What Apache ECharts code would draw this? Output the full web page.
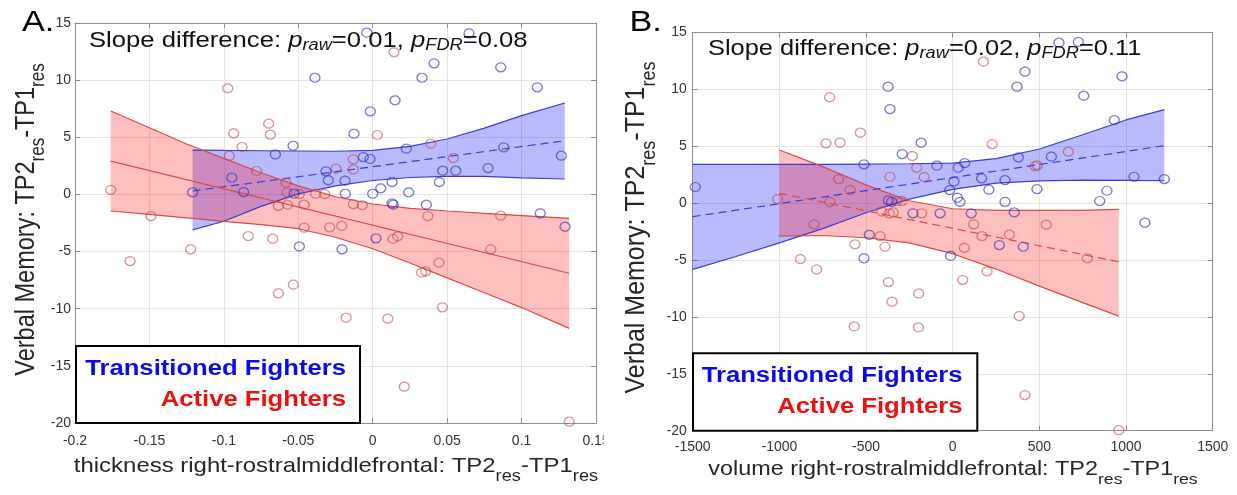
<!DOCTYPE html>
<html><head><meta charset="utf-8">
<script src="https://cdn.jsdelivr.net/npm/echarts@6/dist/echarts.min.js"></script>
<style>html,body{margin:0;padding:0;background:#fff}#c{width:1237px;height:495px}</style>
</head><body><div id="c"></div>
<script>
const FONT = "'Liberation Sans', Arial, Helvetica, sans-serif";

// ---------- Panel A (thickness) ----------
const aXTicks = [-0.2, 0.15, 0.05];
const yTicks = [-20, 15, 5];
const aBlueX = [-0.121,-0.0947,-0.0867,-0.0654,-0.0535,-0.0529,-0.0493,-0.0388,-0.0314,-0.0298,-0.0186,-0.0184,-0.0206,-0.0126,-0.0063,-0.0018,-0.0016,-0.004,0,0.0054,0.013,0.013,0.0138,0.0022,0.015,0.0226,0.0242,0.0331,0.0412,0.036,0.0448,0.047,0.0558,0.0647,0.0775,0.086,0.088,0.1106,0.1126,0.1267,0.1292];
const aBlueY = [0.18,1.46,0.21,3.5,4.26,0.06,-4.55,10.21,2.02,1.23,1.2,0.06,-4.8,5.31,3.27,3.1,7.27,14.15,0.06,0.53,1.08,-0.78,-0.9,-3.84,8.23,4.0,0.18,10.21,11.47,-0.9,1.08,2.08,2.08,14.1,2.31,11.12,4.12,9.37,-1.65,3.39,-2.82];
const aRedX = [-0.176,-0.163,-0.149,-0.1223,-0.0974,-0.0963,-0.0934,-0.0878,-0.0836,-0.078,-0.0699,-0.0688,-0.0672,-0.0634,-0.0634,-0.0583,-0.0576,-0.0572,-0.0533,-0.0493,-0.0461,-0.0461,-0.0383,-0.0323,-0.0289,-0.0247,-0.0208,-0.0179,-0.013,-0.013,-0.013,-0.007,0.0031,0.0101,0.0136,0.0168,0.0143,0.0212,0.0329,0.0356,0.037,0.039,0.0445,0.0468,0.0542,0.0793,0.086,0.132];
const aRedY = [0.4,-5.83,-1.89,-4.8,9.28,3.39,5.35,4.15,-3.64,2.05,6.19,5.23,-3.87,-8.65,-1.0,1.03,0.17,-0.9,-7.9,0.03,-0.9,-2.9,0.06,0.03,-2.88,2.25,-2.76,-10.79,3.07,2.19,-0.84,-0.93,5.2,-10.87,-3.9,-3.67,12.43,-16.82,-6.85,-6.73,-1.89,4.44,-5.97,-9.88,3.18,-4.8,-1.86,-19.88];
const aBlueFitX = [-0.121, 0.1292];
const aBlueFitY = [0.3, 4.7];
const aBlueBandX = [-0.121,-0.1,-0.075,-0.05,-0.025,0,0.025,0.05,0.075,0.1,0.129];
const aBlueBandUp = [3.88,3.85,3.82,3.8,3.78,3.85,4.2,4.85,5.8,6.9,8.0];
const aBlueBandLo = [-3.1,-2.35,-1.05,0.05,0.75,1.22,1.48,1.58,1.58,1.45,1.35];
const aRedFitX = [-0.176, 0.132];
const aRedFitY = [2.92, -6.9];
const aRedBandX = [-0.176,-0.15,-0.125,-0.1,-0.075,-0.05,-0.025,0,0.025,0.05,0.075,0.1,0.132];
const aRedBandUp = [7.3,5.84,4.41,3.15,1.9,0.75,-0.2,-0.84,-1.22,-1.45,-1.66,-1.85,-2.09];
const aRedBandLo = [-1.45,-1.75,-2.05,-2.35,-2.65,-3.0,-3.75,-4.75,-6.0,-7.3,-8.6,-9.9,-11.72];

// ---------- Panel B (volume) ----------
const bXTicks = [-1500, 1500, 500];
const bBlueX = [-1485,-512,-512,-481,-373,-362,-371,-352,-291,-229,-182,-91,-73,-17,-12,7,27,42,32,69,107,167,209,269,302,302,355,371,379,407,417,486,569,613,725,756,848,890,932,977,1046,1109,1221];
const bBlueY = [1.41,3.4,-4.86,-2.79,10.22,8.26,0.24,0.11,4.3,-0.9,5.3,3.28,-0.9,1.14,-4.65,1.9,0.47,0.11,3.1,3.51,-0.9,2.17,1.17,-3.69,2.02,0.11,-0.82,10.22,4.02,-3.84,11.54,1.23,4.07,14.09,14.15,9.43,0.18,1.08,7.29,11.13,2.31,-1.73,2.11];
const bRedX = [-1010,-879,-800,-785,-731,-710,-708,-658,-650,-592,-568,-564,-533,-419,-410,-391,-371,-366,-362,-350,-343,-323,-293,-233,-208,-198,-196,-179,-165,58,67,121,169,177,198,228,327,384,417,475,488,540,667,777,958];
const bRedY = [0.35,-4.92,-1.87,-5.83,5.25,9.29,0.09,2.11,5.3,1.14,-10.84,-3.63,6.18,-2.9,-0.73,-3.84,-6.94,-0.9,2.31,-8.67,-0.82,0.18,0.2,4.13,3.1,-10.93,-7.94,-0.9,2.28,-6.74,-3.93,-1.87,-2.9,12.42,-6.0,5.18,-2.78,-9.93,-16.87,3.25,3.31,-1.9,4.51,-4.86,-19.95];
const bBlueFitX = [-1500, 1221];
const bBlueFitY = [-1.2, 5.04];
const bBlueBandX = [-1500,-1250,-1000,-750,-500,-250,0,250,500,750,1000,1221];
const bBlueBandUp = [3.4,3.4,3.4,3.4,3.42,3.45,3.5,3.9,4.75,6.0,7.3,8.2];
const bBlueBandLo = [-5.83,-4.7,-3.5,-2.25,-0.85,0.35,1.2,1.75,1.95,2.02,2.0,1.96];
const bRedFitX = [-1000, 958];
const bRedFitY = [0.85, -5.16];
const bRedBandX = [-1000,-750,-500,-250,0,250,500,750,958];
const bRedBandUp = [4.66,3.2,1.6,0.2,-0.5,-0.65,-0.65,-0.65,-0.56];
const bRedBandLo = [-2.9,-2.85,-3.05,-3.5,-4.45,-5.8,-7.3,-8.75,-9.93];

// ---------- texts ----------
const titleA = 'Slope difference: {i|p}{s|raw}=0.01, {i|p}{s|FDR}=0.08';
const titleB = 'Slope difference: {i|p}{s|raw}=0.02, {i|p}{s|FDR}=0.11';
const xNameA = 'thickness right-rostralmiddlefrontal: TP2{s|res}-TP1{s|res}';
const xNameB = 'volume right-rostralmiddlefrontal: TP2{s|res}-TP1{s|res}';
const yName = 'Verbal Memory: TP2{s|res}-TP1{s|res}';
const legendNames = ['Transitioned Fighters', 'Active Fighters'];

const BLUE_PT = 'rgba(45,45,190,0.8)';
const RED_PT = 'rgba(195,60,60,0.7)';
const BLUE_LN = '#3b3bd6';
const RED_LN = '#d84a4a';
const BLUE_FILL = 'rgba(0,0,255,0.27)';
const RED_FILL = 'rgba(255,0,0,0.25)';
const AXIS_C = '#8c8c8c';

const chart = echarts.init(document.getElementById('c'), null, {renderer: 'canvas'});

function plainNum(v) { return String(Math.round(v * 10000) / 10000); }

function xAx(grid, t, pos, margin) {
  const main = pos === 'bottom';
  return {
    gridIndex: grid, type: 'value', position: pos, min: t[0], max: t[1], interval: t[2],
    axisLine: {show: true, onZero: false, lineStyle: {color: AXIS_C, width: 1}},
    axisTick: {show: true, inside: true, length: 5, lineStyle: {color: AXIS_C}},
    axisLabel: {show: main, fontSize: 14, fontFamily: FONT, color: '#333', margin: margin, showMinLabel: true, showMaxLabel: true, formatter: plainNum},
    splitLine: {show: main, lineStyle: {color: '#e4e4e4', width: 1}}
  };
}
function yAx(grid, t, pos, margin) {
  const main = pos === 'left';
  return {
    gridIndex: grid, type: 'value', position: pos, min: t[0], max: t[1], interval: t[2],
    axisLine: {show: true, onZero: false, lineStyle: {color: AXIS_C, width: 1}},
    axisTick: {show: true, inside: true, length: 5, lineStyle: {color: AXIS_C}},
    axisLabel: {show: main, fontSize: 14, fontFamily: FONT, color: '#333', margin: margin, showMinLabel: true, showMaxLabel: true, formatter: plainNum},
    splitLine: {show: main, lineStyle: {color: '#e4e4e4', width: 1}}
  };
}
function band(xi, yi, xs, lo, up, fill) {
  return {
    type: 'custom', xAxisIndex: xi, yAxisIndex: yi, z: 1, silent: true, clip: true,
    data: xs.map((x, i) => [x, lo[i], up[i]]),
    encode: {x: 0, y: [1, 2]},
    renderItem: function (params, api) {
      if (params.dataIndex !== 0) return null;
      const pts = [];
      for (let i = 0; i < xs.length; i++) pts.push(api.coord([xs[i], up[i]]));
      for (let i = xs.length - 1; i >= 0; i--) pts.push(api.coord([xs[i], lo[i]]));
      return {type: 'polygon', shape: {points: pts}, style: {fill: fill}};
    }
  };
}
function line(xi, yi, xs, ys, color, dashed) {
  return {
    type: 'line', xAxisIndex: xi, yAxisIndex: yi, z: 2, silent: true, symbol: 'none',
    data: xs.map((x, i) => [x, ys[i]]),
    lineStyle: {color: color, width: 1.2, type: dashed ? [8, 5] : 'solid'}
  };
}
function pts(xi, yi, xs, ys, color) {
  return {
    type: 'scatter', xAxisIndex: xi, yAxisIndex: yi, z: 3, silent: true,
    symbol: 'circle', symbolSize: [10, 9],
    data: xs.map((x, i) => [x, ys[i]]),
    itemStyle: {color: 'rgba(0,0,0,0)', borderColor: color, borderWidth: 1.3}
  };
}
function txt(x, y, text, size, opts) {
  opts = opts || {};
  const sub = opts.sub || 16, pad = opts.pad || 10;
  const st = {
    text: text, fontSize: size, fontFamily: FONT, fontWeight: opts.weight || 'normal',
    fill: opts.fill || '#111', align: opts.align || 'left', verticalAlign: 'middle',
    rich: {
      i: {fontSize: size, fontStyle: 'italic', fontFamily: FONT, fill: opts.fill || '#111'},
      s: {fontSize: sub, fontStyle: opts.subItalic ? 'italic' : 'normal', fontFamily: FONT, fill: opts.fill || '#111', padding: [pad, 0, 0, 0]}
    }
  };
  const el = {type: 'text', x: x, y: y, z: 100, style: st, silent: true};
  if (opts.rot) { el.rotation = Math.PI / 2; el.scaleY = 1.14; } else { el.scaleX = 1.14; }
  return el;
}

const option = {
  animation: false,
  backgroundColor: '#fff',
  grid: [
    {left: 75, top: 23, width: 521, height: 400, outerBoundsMode: 'none', containLabel: false},
    {left: 692.7, top: 32.3, width: 520, height: 398.4, outerBoundsMode: 'none', containLabel: false}
  ],
  xAxis: [xAx(0, aXTicks, 'bottom', 11), xAx(0, aXTicks, 'top', 8), xAx(1, bXTicks, 'bottom', 9), xAx(1, bXTicks, 'top', 8)],
  yAxis: [yAx(0, yTicks, 'left', 4), yAx(0, yTicks, 'right', 8), yAx(1, yTicks, 'left', 6), yAx(1, yTicks, 'right', 8)],
  series: [
    band(0, 0, aBlueBandX, aBlueBandLo, aBlueBandUp, BLUE_FILL),
    band(0, 0, aRedBandX, aRedBandLo, aRedBandUp, RED_FILL),
    line(0, 0, aBlueBandX, aBlueBandUp, BLUE_LN, false),
    line(0, 0, aBlueBandX, aBlueBandLo, BLUE_LN, false),
    line(0, 0, aRedBandX, aRedBandUp, RED_LN, false),
    line(0, 0, aRedBandX, aRedBandLo, RED_LN, false),
    line(0, 0, aBlueFitX, aBlueFitY, BLUE_LN, true),
    line(0, 0, aRedFitX, aRedFitY, RED_LN, false),
    pts(0, 0, aRedX, aRedY, RED_PT),
    pts(0, 0, aBlueX, aBlueY, BLUE_PT),

    band(2, 2, bBlueBandX, bBlueBandLo, bBlueBandUp, BLUE_FILL),
    band(2, 2, bRedBandX, bRedBandLo, bRedBandUp, RED_FILL),
    line(2, 2, bBlueBandX, bBlueBandUp, BLUE_LN, false),
    line(2, 2, bBlueBandX, bBlueBandLo, BLUE_LN, false),
    line(2, 2, bRedBandX, bRedBandUp, RED_LN, false),
    line(2, 2, bRedBandX, bRedBandLo, RED_LN, false),
    line(2, 2, bBlueFitX, bBlueFitY, BLUE_LN, true),
    line(2, 2, bRedFitX, bRedFitY, RED_LN, true),
    pts(2, 2, bRedX, bRedY, RED_PT),
    pts(2, 2, bBlueX, bBlueY, BLUE_PT)
  ],
  graphic: [
    {type: 'rect', z: 100, silent: true, shape: {x: 603.5, y: 428, width: 10, height: 22}, style: {fill: '#fff'}},
    txt(22, 22.5, 'A.', 30, {fill: '#000'}),
    txt(629.5, 23, 'B.', 30, {fill: '#000'}),
    txt(89, 41, titleA, 22.5, {sub: 16, pad: 10, subItalic: true}),
    txt(708, 49, titleB, 22.3, {sub: 16, pad: 10, subItalic: true}),
    txt(336, 466, xNameA, 21, {sub: 16, pad: 22, align: 'center', fill: '#262626'}),
    txt(953, 469, xNameB, 20.5, {sub: 15.5, pad: 22, align: 'center', fill: '#262626'}),
    txt(27, 219.5, yName, 23.5, {sub: 17, pad: 20, align: 'center', fill: '#262626', rot: true}),
    txt(636.5, 227.5, yName, 25, {sub: 18, pad: 22, align: 'center', fill: '#262626', rot: true}),
    {type: 'rect', z: 99, silent: true, shape: {x: 76, y: 346, width: 284, height: 77}, style: {fill: '#fff', stroke: '#000', lineWidth: 2}},
    {type: 'rect', z: 99, silent: true, shape: {x: 693, y: 353.3, width: 284.3, height: 77.4}, style: {fill: '#fff', stroke: '#000', lineWidth: 2}},
    txt(346, 368.3, legendNames[0], 22.5, {weight: 'bold', align: 'right', fill: '#0a0aee'}),
    txt(346, 400, legendNames[1], 22.5, {weight: 'bold', align: 'right', fill: '#ee1010'}),
    txt(962.5, 376, legendNames[0], 22.5, {weight: 'bold', align: 'right', fill: '#0a0aee'}),
    txt(962.5, 406.7, legendNames[1], 22.5, {weight: 'bold', align: 'right', fill: '#ee1010'})
  ]
};
chart.setOption(option);
</script></body></html>
